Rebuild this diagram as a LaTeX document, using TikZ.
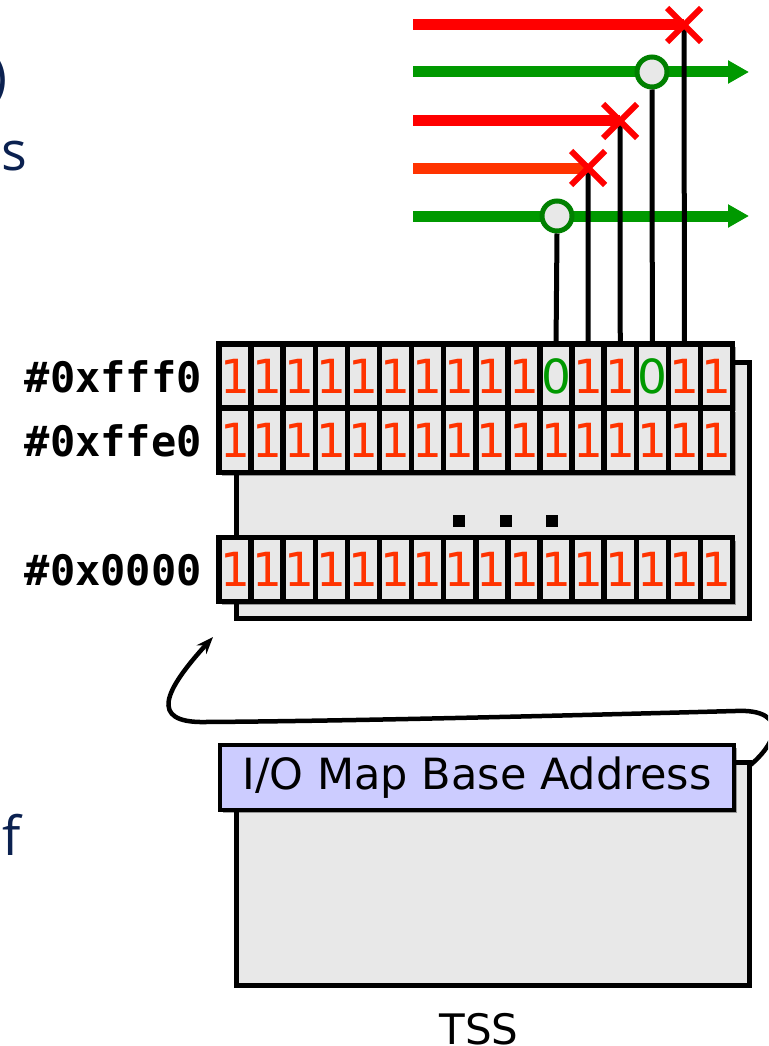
\documentclass[tikz,border=0pt]{standalone}
\usepackage{fontspec}
\setmainfont{DejaVu Sans}
\setmonofont{DejaVu Sans Mono}
\newfontfamily\slidefont{Open Sans}
\usetikzlibrary{arrows.meta,shadows,calc}
\definecolor{cellfill}{HTML}{E8E8E8}
\definecolor{onered}{HTML}{FF3300}
\definecolor{deny}{HTML}{FF0000}
\definecolor{zerogreen}{HTML}{009900}
\definecolor{ringgreen}{HTML}{008000}
\definecolor{navy}{HTML}{0B2150}
\definecolor{iofill}{HTML}{CCCCFF}
\begin{document}
\begin{tikzpicture}[x=1pt,y=-1pt,
  shad/.style={drop shadow={shadow xshift=3pt,shadow yshift=-3pt,fill=black,opacity=0.35}},
  cellbox/.style={draw=black,line width=5.5pt,fill=cellfill,minimum width=32.1pt,minimum height=64pt,
    inner sep=0pt,font=\fontsize{47}{47}\selectfont,shad},
  b1/.style={text=onered},
  b0/.style={text=zerogreen},
  bigbox/.style={draw=black,line width=5pt,fill=cellfill,inner sep=0pt,shad},
  iobox/.style={draw=black,line width=3.5pt,fill=iofill,inner sep=0pt,minimum width=514pt,minimum height=65pt,
    font=\fontsize{43}{43}\selectfont,shad},
  rowlabel/.style={anchor=east,inner sep=0pt,font=\ttfamily\bfseries\fontsize{42}{42}\selectfont},
  frag/.style={anchor=base east,inner sep=0pt,text=navy,font=\slidefont\fontsize{54}{54}\selectfont},
  redline/.style={line width=11pt,draw=deny},
  greenarrow/.style={line width=11pt,draw=zerogreen,-{Triangle[length=21pt,width=22pt]}},
  ring/.style={circle,draw=ringgreen,line width=5pt,fill=cellfill,minimum size=30pt,inner sep=0pt},
  wire/.style={line width=5pt,draw=black},
  cross/.style={line width=6pt,draw=deny},
  ptrline/.style={line width=4.5pt,draw=black,-{Stealth[length=17pt,width=13pt]}},
  dot/.style={fill=black,minimum size=12pt,inner sep=0pt}
]
\useasboundingbox (0,0) rectangle (768,1046);
\clip (0,0) rectangle (768,1046);

% cut-off slide text at the left edge
\node[frag] (fragparen) at (8,96) {)};
\node[frag] (frags) at (27,170) {s};
\node[frag] (fragf) at (21,855) {f};

% pointer curve (boxes drawn afterwards cover its start)
\coordinate (ptr) at (213,637);
\coordinate (ptrstart) at (734,777);
\draw[ptrline] (ptrstart) .. controls (780,748) and (792,708) .. (735,711)
  .. controls (550,716) and (350,721) .. (205,722)
  .. controls (148,723) and (165,690) .. (ptr);

\node[bigbox,minimum width=513pt,minimum height=223pt] (tss) at (492.5,873.5) {};
\node[iobox] (io) at (477,777.5) {I/O Map Base Address};
\node[inner sep=0pt,font=\fontsize{42}{42}\selectfont] (tsslabel) at (479,1029) {TSS};

% bitmap backing box
\node[bigbox,minimum width=513pt,minimum height=256pt] (bmp) at (492.5,490) {};
\node[dot] (d1) at (459,521) {};
\node[dot] (d2) at (506,521) {};
\node[dot] (d3) at (552,521) {};

% bit rows
\foreach \b [count=\i from 0] in {1,1,1,1,1,1,1,1,1,1,0,1,1,0,1,1}
  \node[cellbox,b\b] (ra-\i) at ({235.05+32.1*\i},376) {\b};
\foreach \b [count=\i from 0] in {1,1,1,1,1,1,1,1,1,1,1,1,1,1,1,1}
  \node[cellbox,b\b] (rb-\i) at ({235.05+32.1*\i},440.5) {\b};
\foreach \b [count=\i from 0] in {1,1,1,1,1,1,1,1,1,1,1,1,1,1,1,1}
  \node[cellbox,b\b] (rc-\i) at ({235.05+32.1*\i},569.5) {\b};

\node[rowlabel] (la) at (202,377) {\#0xfff0};
\node[rowlabel] (lb) at (202,441) {\#0xffe0};
\node[rowlabel] (lc) at (202,570) {\#0x0000};

% port access lines
\coordinate (s1) at (413,25);
\coordinate (s2) at (413,72);
\coordinate (s3) at (413,121);
\coordinate (s4) at (413,168);
\coordinate (s5) at (413,216);
\coordinate (x1) at (684,25);
\coordinate (x2) at (620,121);
\coordinate (x3) at (588,168);
\coordinate (e2) at (749,72);
\coordinate (e5) at (749,216);

\draw[redline] (s1) -- (x1);
\draw[greenarrow] (s2) -- (e2);
\draw[redline] (s3) -- (x2);
\draw[redline,draw=onered] (s4) -- (x3);
\draw[greenarrow] (s5) -- (e5);

\node[ring] (o2) at (652,72) {};
\node[ring] (o1) at (557,216) {};

\draw[wire] (o1.south) -- (ra-10.north);
\draw[wire] (x3) -- (ra-11.north);
\draw[wire] (x2) -- (ra-12.north);
\draw[wire] (o2.south) -- (ra-13.north);
\draw[wire] (x1) -- (ra-14.north);

\foreach \c in {x1,x2,x3}
  \draw[cross] ($(\c)+(-17,-17)$) -- ($(\c)+(17,17)$)
               ($(\c)+(-17,17)$) -- ($(\c)+(17,-17)$);
\end{tikzpicture}
\end{document}
